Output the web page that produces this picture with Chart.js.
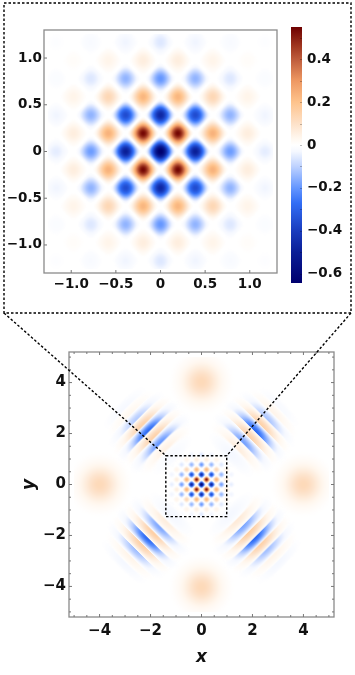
<!DOCTYPE html>
<html><head><meta charset="utf-8">
<style>html,body{margin:0;padding:0;background:#fff;width:355px;height:675px;overflow:hidden}
canvas{position:absolute;left:0;top:0}</style>
<script src="https://cdn.jsdelivr.net/npm/chart.js@4"></script></head>
<body>
<canvas id="inset" width="355" height="675"></canvas>
<canvas id="bar" width="355" height="675"></canvas>
<canvas id="main" width="355" height="675"></canvas>
<script>
// ---------- values ----------
const latticeEven = [0, 0.39, 0.78, 1.17];
const latticeOdd = [0.195, 0.585, 0.975];
const peaksEven = [
  [-0.65, -0.5, -0.19, -0.05],
  [-0.47, -0.36, -0.15, -0.035],
  [-0.2, -0.15, -0.06, -0.015],
  [-0.06, -0.035, -0.02, -0.008]
];
const peaksOdd = [
  [0.54, 0.24, 0.06],
  [0.23, 0.13, 0.04],
  [0.06, 0.04, 0.012]
];
const coherentX = [-4, 4, 0, 0];
const coherentY = [0, 0, 4.03, -4.03];
const coherentPeak = [0.125, 0.125, 0.125, 0.125];

const fringeTLx = [-3.0, -2.769, -2.537, -2.306, -2.074, -1.843, -1.611, -1.38, -1.148];
const fringeTLy = [3.0, 2.769, 2.537, 2.306, 2.074, 1.843, 1.611, 1.38, 1.148];
const fringeTLv = [-0.025, 0.03, -0.11, 0.15, -0.28, 0.15, -0.2, 0.05, -0.02];
const fringeTRx = [3.019, 2.787, 2.556, 2.324, 2.093, 1.861, 1.63, 1.398, 1.167];
const fringeTRy = [3.019, 2.787, 2.556, 2.324, 2.093, 1.861, 1.63, 1.398, 1.167];
const fringeTRv = [-0.02, 0.04, -0.12, 0.15, -0.28, 0.15, -0.18, 0.06, -0.03];
const fringeBLx = [-3.028, -2.796, -2.565, -2.333, -2.102, -1.87, -1.639, -1.407, -1.176];
const fringeBLy = [-3.028, -2.796, -2.565, -2.333, -2.102, -1.87, -1.639, -1.407, -1.176];
const fringeBLv = [-0.03, 0.04, -0.13, 0.15, -0.28, 0.16, -0.17, 0.06, -0.03];
const fringeBRx = [3.009, 2.778, 2.546, 2.315, 2.083, 1.852, 1.62, 1.389, 1.157];
const fringeBRy = [-3.009, -2.778, -2.546, -2.315, -2.083, -1.852, -1.62, -1.389, -1.157];
const fringeBRv = [-0.03, 0.04, -0.13, 0.15, -0.28, 0.16, -0.17, 0.07, -0.03];

const insetTicks = [-1, -0.5, 0, 0.5, 1];
const mainTicks = [-4, -2, 0, 2, 4];
const mainMinor = [-5, -4.5, -3.5, -3, -2.5, -1.5, -1, -0.5, 0.5, 1, 1.5, 2.5, 3, 3.5, 4.5, 5];
const barTicks = [-0.6, -0.4, -0.2, 0, 0.2, 0.4];
const barMinor = [-0.5, -0.3, -0.1, 0.1, 0.3, 0.5];
const barRange = [-0.643, 0.55];
const zoomBoxX = [-1.4, 0.99];
const zoomBoxY = [-1.26, 1.13];

// colour ramp: value, r, g, b
const rampV = [-0.643, -0.5, -0.4, -0.27, -0.2, -0.1, -0.03, 0, 0.03, 0.1, 0.2, 0.3, 0.4, 0.46, 0.55];
const rampR = [0, 10, 25, 50, 100, 190, 245, 255, 255, 253, 254, 238, 190, 160, 110];
const rampG = [0, 30, 60, 110, 150, 210, 248, 255, 248, 225, 195, 152, 92, 55, 0];
const rampB = [110, 150, 190, 245, 255, 255, 255, 255, 240, 200, 140, 98, 60, 32, 0];

// ---------- colour + marks as point sprites ----------
function colour(v) {
  let i = 0;
  if (v <= rampV[0]) i = 0;
  else { while (i < rampV.length - 2 && v > rampV[i + 1]) i++; }
  let t = (v - rampV[i]) / (rampV[i + 1] - rampV[i]);
  t = Math.max(0, Math.min(1, t));
  return [rampR[i] + t * (rampR[i + 1] - rampR[i]),
          rampG[i] + t * (rampG[i + 1] - rampG[i]),
          rampB[i] + t * (rampB[i + 1] - rampB[i])];
}
function sprite(w, h, field) {
  const c = document.createElement('canvas');
  c.width = w; c.height = h;
  const g = c.getContext('2d'), im = g.createImageData(w, h);
  for (let py = 0; py < h; py++) for (let px = 0; px < w; px++) {
    const v = field(px + 0.5 - w / 2, py + 0.5 - h / 2);
    if (v === null) continue;
    const col = colour(v), k = 4 * (py * w + px);
    im.data[k] = col[0]; im.data[k + 1] = col[1]; im.data[k + 2] = col[2];
    im.data[k + 3] = 255 * Math.min(1, Math.abs(v) / 0.008);
  }
  g.putImageData(im, 0, 0);
  return c;
}
function diamond(v, hx, hy) {
  return sprite(2 * Math.ceil(hx) + 2, 2 * Math.ceil(hy) + 2, (dx, dy) => {
    const u = dx / hx, w = dy / hy;
    if (Math.abs(u) + Math.abs(w) >= 1) return null;
    const f = Math.cos(Math.PI * (u + w) / 2) * Math.cos(Math.PI * (u - w) / 2);
    return v * Math.pow(Math.max(0, f), 1.25);
  });
}
function band(v, sign, half, sigma) {
  const r = Math.SQRT1_2;
  return sprite(100, 100, (dx, dy) => {
    const s = (dx + sign * dy) * r / half, t = (dx - sign * dy) * r / sigma;
    if (Math.abs(s) >= 1) return null;
    return v * Math.cos(Math.PI * s / 2) * Math.exp(-t * t / 2);
  });
}
function blob(v, sigma) {
  return sprite(84, 84, (dx, dy) => v * Math.exp(-(dx * dx + dy * dy) / (2 * sigma * sigma)));
}
function latticePoints(pos, table) {
  const out = [];
  pos.forEach((py, j) => pos.forEach((px, i) => {
    (px === 0 ? [1] : [-1, 1]).forEach(a => (py === 0 ? [1] : [-1, 1]).forEach(b => {
      out.push({ x: a * px, y: b * py, v: table[j][i] });
    }));
  }));
  return out;
}
function spriteDataset(points, make, clip) {
  const sprites = points.map(p => make(p.v));
  return {
    data: points.map(p => ({ x: p.x, y: p.y })),
    pointStyle: c => sprites[c.dataIndex],
    pointRadius: 3, showLine: false, clip: clip
  };
}
const zip = (xs, ys, vs) => xs.map((x, i) => ({ x: x, y: ys[i], v: vs[i] }));
const latticeAll = latticePoints(latticeEven, peaksEven).concat(latticePoints(latticeOdd, peaksOdd));

// ---------- shared axis helpers ----------
const FONT = { family: "'DejaVu Sans'", weight: 'bold', size: 13.5 };
const FONT_MAIN = { family: "'DejaVu Sans'", weight: 'bold', size: 15 };
const minus = s => String(s).replace('-', '\u2212');
function axis(min, max, ticks, fmt, size, pad, title, font) {
  return {
    type: 'linear', min: min, max: max,
    grid: { display: false, drawTicks: false }, border: { display: false },
    afterBuildTicks: a => { a.ticks = ticks.map(v => ({ value: v })); },
    afterFit: a => { if (a.isHorizontal()) a.height = size; else a.width = size; },
    ticks: { font: font || FONT, color: '#111', padding: pad, autoSkip: false, maxRotation: 0,
             callback: v => (v === 0 ? '0' : minus(v.toFixed(fmt))) },
    title: title ? { display: true, text: title, color: '#111', padding: { top: 0, bottom: 0 },
                     font: { family: "'DejaVu Sans'", weight: 'bold', style: 'italic', size: 17 } } : { display: false }
  };
}
function framePlugin(cfg) {
  return { id: 'frame', afterDatasetsDraw(chart) {
    const a = chart.chartArea, g = chart.ctx, sx = chart.scales.x, sy = chart.scales.y;
    g.save();
    g.strokeStyle = '#8a8a8a'; g.lineWidth = 1.3;
    g.strokeRect(a.left, a.top, a.right - a.left, a.bottom - a.top);
    g.strokeStyle = '#777'; g.lineWidth = 1;
    const mark = (v, len) => {
      const px = sx.getPixelForValue(v), py = sy.getPixelForValue(v);
      g.beginPath();
      g.moveTo(px, a.bottom); g.lineTo(px, a.bottom - len);
      g.moveTo(a.left, py); g.lineTo(a.left + len, py);
      if (cfg.allSides) {
        g.moveTo(px, a.top); g.lineTo(px, a.top + len);
        g.moveTo(a.right, py); g.lineTo(a.right - len, py);
      }
      g.stroke();
    };
    cfg.major.forEach(v => mark(v, 3));
    (cfg.minor || []).forEach(v => mark(v, 2));
    g.restore();
  } };
}
const common = { responsive: false, animation: false, devicePixelRatio: 1,
  plugins: { legend: { display: false }, tooltip: { enabled: false } } };

// ---------- zoomed heat map ----------
new Chart(document.getElementById('inset'), {
  type: 'scatter',
  data: { datasets: [spriteDataset(latticeAll, v => diamond(v, 17.3, 18.2), -4)] },
  options: Object.assign({}, common, {
    layout: { padding: { left: 0, top: 30, right: 78, bottom: 372 } },
    scales: {
      x: axis(-1.305, 1.305, insetTicks, 1, 30, 3),
      y: axis(-1.3, 1.3, insetTicks, 1, 44, 2)
    }
  }),
  plugins: [framePlugin({ major: insetTicks })]
});

// ---------- colour bar ----------
new Chart(document.getElementById('bar'), {
  type: 'bar',
  data: { labels: ['W'], datasets: [{
    data: [barRange], borderWidth: 0, barPercentage: 1, categoryPercentage: 1, borderSkipped: false,
    backgroundColor: c => {
      const ch = c.chart;
      if (!ch.chartArea) return '#888';
      const s = ch.scales.y, y0 = s.getPixelForValue(barRange[0]), y1 = s.getPixelForValue(barRange[1]);
      const grad = ch.ctx.createLinearGradient(0, y0, 0, y1);
      rampV.forEach((v, i) => grad.addColorStop((v - barRange[0]) / (barRange[1] - barRange[0]),
        'rgb(' + rampR[i] + ',' + rampG[i] + ',' + rampB[i] + ')'));
      return grad;
    }
  }] },
  options: Object.assign({}, common, {
    layout: { padding: { left: 291, top: 27, right: 3, bottom: 392 } },
    scales: {
      x: { display: false },
      y: Object.assign(axis(barRange[0], barRange[1], barTicks, 1, 50, 5), { position: 'right' })
    }
  }),
  plugins: [{ id: 'barTicks', afterDatasetsDraw(chart) {
    const a = chart.chartArea, g = chart.ctx, s = chart.scales.y;
    g.save(); g.strokeStyle = 'rgba(0,0,0,0.25)'; g.lineWidth = 1;
    barTicks.concat(barMinor).forEach(v => {
      const y = Math.round(s.getPixelForValue(v)) + 0.5;
      g.beginPath(); g.moveTo(a.right, y); g.lineTo(a.right - 2, y); g.stroke();
    });
    g.restore();
  } }]
});

// ---------- full phase-space map with the call-out ----------
const calloutPlugin = { id: 'callout', afterDraw(chart) {
  const g = chart.ctx, sx = chart.scales.x, sy = chart.scales.y;
  const l = sx.getPixelForValue(zoomBoxX[0]), r = sx.getPixelForValue(zoomBoxX[1]);
  const t = sy.getPixelForValue(zoomBoxY[1]), b = sy.getPixelForValue(zoomBoxY[0]);
  g.save();
  g.strokeStyle = '#000'; g.lineWidth = 1.4; g.setLineDash([2.5, 2]);
  g.strokeRect(l, t, r - l, b - t);
  g.strokeRect(4, 3, 347, 310);
  g.beginPath();
  g.moveTo(4, 313); g.lineTo(l, t);
  g.moveTo(351, 313); g.lineTo(r, t);
  g.stroke();
  g.restore();
} };
new Chart(document.getElementById('main'), {
  type: 'scatter',
  data: { datasets: [
    spriteDataset(zip(coherentX, coherentY, coherentPeak), v => blob(v, 12), -5),
    spriteDataset(zip(fringeTLx, fringeTLy, fringeTLv), v => band(v, 1, 8.3, 14.5), -5),
    spriteDataset(zip(fringeTRx, fringeTRy, fringeTRv), v => band(v, -1, 8.3, 14.5), -5),
    spriteDataset(zip(fringeBLx, fringeBLy, fringeBLv), v => band(v, -1, 8.3, 14.5), -5),
    spriteDataset(zip(fringeBRx, fringeBRy, fringeBRv), v => band(v, 1, 8.3, 14.5), -5),
    spriteDataset(latticeAll, v => diamond(v, 4.96, 4.96), -5)
  ] },
  options: Object.assign({}, common, {
    layout: { padding: { left: 19, top: 352, right: 21, bottom: 7 } },
    scales: {
      x: axis(-5.2, 5.2, mainTicks, 0, 51, 5, 'x', FONT_MAIN),
      y: axis(-5.2, 5.2, mainTicks, 0, 50, 3, 'y', FONT_MAIN)
    }
  }),
  plugins: [framePlugin({ major: mainTicks, minor: mainMinor, allSides: true }), calloutPlugin]
});
</script>
</body></html>
